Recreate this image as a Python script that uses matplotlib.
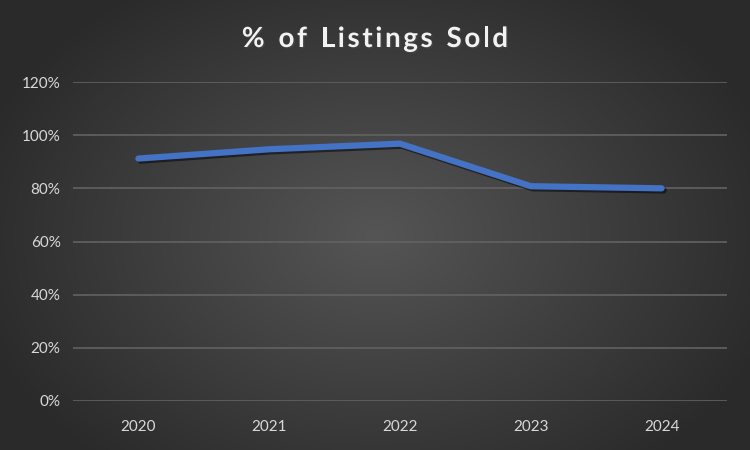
import numpy as np
import matplotlib
matplotlib.use("Agg")
import matplotlib.pyplot as plt
import matplotlib.patheffects as pe
from matplotlib.ticker import PercentFormatter

years = ["2020", "2021", "2022", "2023", "2024"]
pct_sold = [91.2, 94.7, 96.8, 80.8, 80.0]
y_ticks = [0, 20, 40, 60, 80, 100, 120]
title = "% of Listings Sold"

plt.rcParams['font.family'] = ['Lato', 'DejaVu Sans']

fig = plt.figure(figsize=(7.5, 4.5), dpi=100)

# radial gradient background
bg = fig.add_axes([0, 0, 1, 1])
yy, xx = np.mgrid[0:450, 0:750]
r = np.sqrt(((xx - 375) / 420.0) ** 2 + ((yy - 235) / 300.0) ** 2)
r = np.clip(r, 0, 1)
c_in = np.array([0x55, 0x55, 0x55]) / 255
c_out = np.array([0x2a, 0x2a, 0x2a]) / 255
img = c_in[None, None, :] * (1 - r[..., None]) + c_out[None, None, :] * r[..., None]
bg.imshow(img, aspect='auto', extent=[0, 1, 0, 1])
bg.axis('off')

ax = fig.add_axes([73 / 750, 1 - 401 / 450, 654 / 750, 319 / 450])
ax.patch.set_alpha(0)
x = np.arange(len(years))
ax.plot(x, pct_sold, color='#4472C4', lw=4.5, solid_capstyle='round',
        solid_joinstyle='round',
        path_effects=[pe.SimpleLineShadow(offset=(1.5, -1.5), alpha=0.5), pe.Normal()])

ax.set_xlim(-0.5, len(years) - 0.5)
ax.set_ylim(0, 120)
ax.set_yticks(y_ticks)
ax.yaxis.set_major_formatter(PercentFormatter(decimals=0))
ax.set_xticks(x)
ax.set_xticklabels(years)
ax.grid(axis='y', color='#626262', lw=1.2)
ax.set_axisbelow(True)
for s in ax.spines.values():
    s.set_visible(False)
ax.tick_params(length=0, colors='#d9d9d9', labelsize=11)
ax.tick_params(axis='x', pad=14)
ax.tick_params(axis='y', pad=9)

# title with letter spacing, drawn char by char
renderer = fig.canvas.get_renderer()
tprops = dict(color='#f2f2f2', fontsize=20, fontweight='bold', va='baseline', ha='left',
              path_effects=[pe.withSimplePatchShadow(offset=(1, -1), alpha=0.6)])
spacing = 2.6  # px between chars
widths = []
for ch in title:
    t = fig.text(0, 0, ch if ch != ' ' else 'n', **tprops)
    w = t.get_window_extent(renderer).width
    if ch == ' ':
        w *= 0.55
    widths.append(w)
    t.remove()
total = sum(widths) + spacing * (len(title) - 1)
xpos = 375 - total / 2
base_y = 450 - 47
for ch, w in zip(title, widths):
    if ch != ' ':
        fig.text(xpos / 750, base_y / 450, ch, **tprops)
    xpos += w + spacing

fig.savefig("out.png", dpi=100)
